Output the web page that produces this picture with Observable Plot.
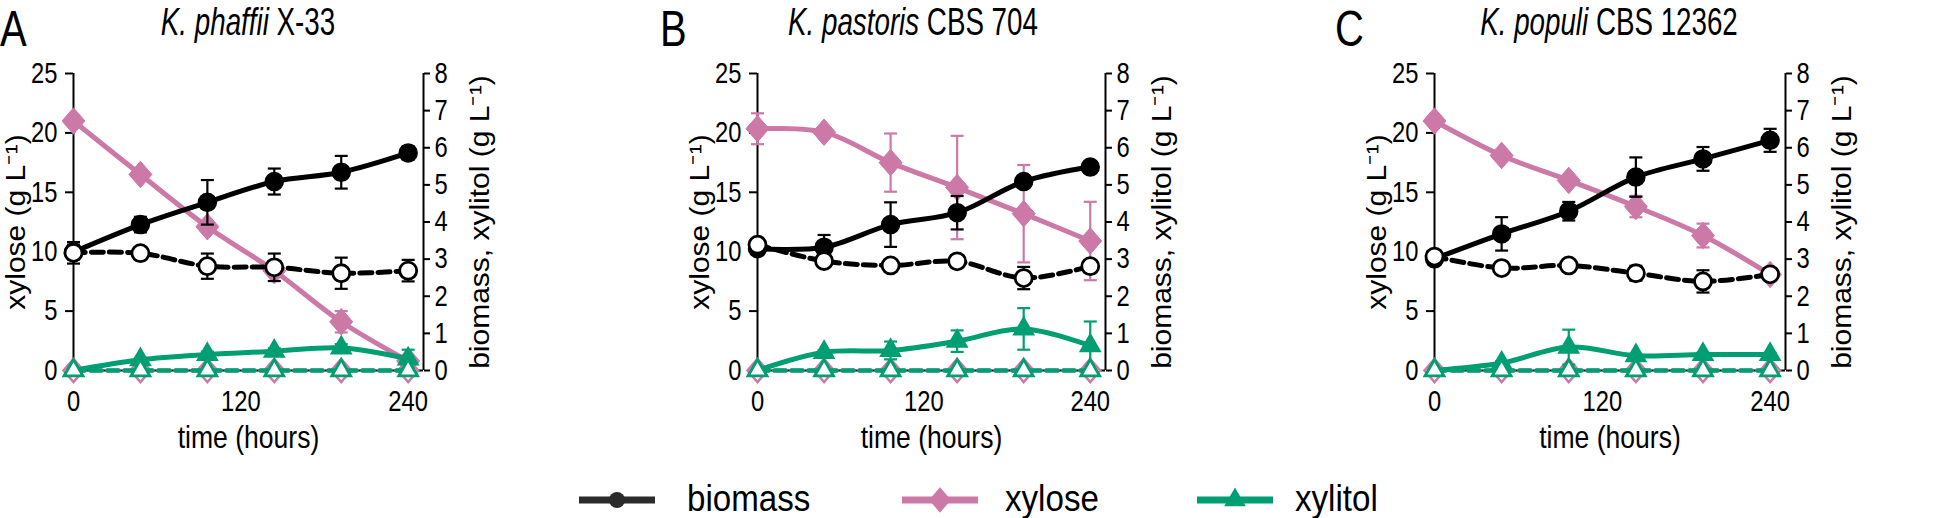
<!DOCTYPE html>
<html>
<head>
<meta charset="utf-8">
<script src="https://cdn.jsdelivr.net/npm/d3@7"></script>
<script src="https://cdn.jsdelivr.net/npm/@observablehq/plot@0.6"></script>
<style>
  body { margin: 0; background: #fff; font-family: "Liberation Sans", Arial, sans-serif; }
  #wrap { position: relative; width: 1960px; height: 518px; overflow: hidden; background: #fff; }
  .panel { position: absolute; top: 0; }
  .panel svg { overflow: visible; }
  .title { position: absolute; top: 1px; width: 500px; text-align: center; font-size: 38px; line-height: 42px; color: #000; white-space: nowrap; transform: scaleX(0.73); transform-origin: center; }
  .letter { position: absolute; top: 4px; font-size: 50px; line-height: 50px; color: #000; transform: scaleX(0.8); transform-origin: left; }
  .lgsw { position: absolute; top: 485px; }
  .lgtx { position: absolute; top: 478px; font-size: 36px; line-height: 42px; color: #000; white-space: nowrap; transform: scaleX(0.92); transform-origin: left; }
</style>
</head>
<body>
<div id="wrap"></div>
<script>
// ---------- data ----------
const time = [0, 48, 96, 144, 192, 240];
const xTicks = [0, 120, 240];
const yLeftTicks = [0, 5, 10, 15, 20, 25];
const yRightTicks = [0, 1, 2, 3, 4, 5, 6, 7, 8];
const seriesNames = ["biomass", "xylose", "xylitol"];
const panelLetters = ["A", "B", "C"];
const panelSpecies = ["K. phaffii", "K. pastoris", "K. populi"];
const panelStrains = ["X-33", "CBS 704", "CBS 12362"];
const leftLabel = "xylose (g L⁻¹)";
const rightLabel = "biomass, xylitol (g L⁻¹)";
const xLabel = "time (hours)";

// control series (open markers, dashed)
const xyloseCtrl = [0, 0, 0, 0, 0, 0];
const xylitolCtrl = [0, 0, 0, 0, 0, 0];

// Panel A: K. phaffii X-33
const biomassA = [3.19, 3.93, 4.53, 5.09, 5.34, 5.86];
const biomassErrA = [0.20, 0.21, 0.60, 0.35, 0.44, 0.18];
const biomassCtrlA = [3.17, 3.16, 2.81, 2.78, 2.62, 2.69];
const biomassCtrlErrA = [0.29, 0.05, 0.34, 0.37, 0.42, 0.29];
const xyloseA = [21.0, 16.5, 12.1, 8.4, 4.1, 0.8];
const xyloseErrA = [0.2, 0.3, 0.4, 0.3, 0.9, 0.4];
const xylitolA = [0, 0.29, 0.43, 0.52, 0.61, 0.31];
const xylitolErrA = [0, 0.05, 0.08, 0.08, 0.10, 0.25];

// Panel B: K. pastoris CBS 704
const biomassB = [3.28, 3.32, 3.93, 4.25, 5.09, 5.48];
const biomassErrB = [0.15, 0.33, 0.60, 0.45, 0.12, 0.08];
const biomassCtrlB = [3.39, 2.95, 2.83, 2.94, 2.49, 2.81];
const biomassCtrlErrB = [0.10, 0.05, 0.05, 0.10, 0.30, 0.15];
const xyloseB = [20.35, 20.06, 17.5, 15.4, 13.2, 10.9];
const xyloseErrB = [1.3, 0.2, 2.45, 4.35, 4.1, 3.3];
const xylitolB = [0, 0.49, 0.54, 0.79, 1.12, 0.67];
const xylitolErrB = [0, 0.05, 0.24, 0.29, 0.56, 0.65];

// Panel C: K. populi CBS 12362
const biomassC = [3.01, 3.68, 4.29, 5.21, 5.70, 6.20];
const biomassErrC = [0.10, 0.45, 0.25, 0.53, 0.32, 0.31];
const biomassCtrlC = [3.07, 2.76, 2.83, 2.62, 2.40, 2.59];
const biomassCtrlErrC = [0.05, 0.05, 0.05, 0.20, 0.30, 0.05];
const xyloseC = [21.0, 18.1, 16.0, 13.8, 11.36, 8.08];
const xyloseErrC = [0.2, 0.3, 0.3, 0.9, 1.0, 0.2];
const xylitolC = [0, 0.20, 0.63, 0.40, 0.43, 0.43];
const xylitolErrC = [0, 0.05, 0.47, 0.05, 0.05, 0.05];

const panels = [
  {biomass: biomassA, biomassErr: biomassErrA, biomassCtrl: biomassCtrlA, biomassCtrlErr: biomassCtrlErrA,
   xylose: xyloseA, xyloseErr: xyloseErrA, xylitol: xylitolA, xylitolErr: xylitolErrA},
  {biomass: biomassB, biomassErr: biomassErrB, biomassCtrl: biomassCtrlB, biomassCtrlErr: biomassCtrlErrB,
   xylose: xyloseB, xyloseErr: xyloseErrB, xylitol: xylitolB, xylitolErr: xylitolErrB},
  {biomass: biomassC, biomassErr: biomassErrC, biomassCtrl: biomassCtrlC, biomassCtrlErr: biomassCtrlErrC,
   xylose: xyloseC, xyloseErr: xyloseErrC, xylitol: xylitolC, xylitolErr: xylitolErrC}
];

// ---------- style / layout ----------
const BLACK = "#000000", PINK = "#CC79A7", GREEN = "#009E73";
const FONT = "'Liberation Sans', Arial, Helvetica, sans-serif";
const layout = [
  {axis: 73, iw: 350, letter: 0, title: 248},
  {axis: 757, iw: 348, letter: 660, title: 913},
  {axis: 1434, iw: 351, letter: 1335, title: 1609}
];
const ML = 73, MR = 90, MT = 73, MB = 90, H = 460;
const XMAX = 251;
const k = 25 / 8; // right axis (0-8) onto left axis (0-25)

const capSym = {draw(ctx, size) { const w = Math.sqrt(size / Math.PI); ctx.moveTo(-w, 0); ctx.lineTo(w, 0); }};
const diamondSym = {draw(ctx, size) { const s = Math.sqrt(size / Math.PI); ctx.moveTo(0, -s * 1.15); ctx.lineTo(s, 0); ctx.lineTo(0, s * 1.15); ctx.lineTo(-s, 0); ctx.closePath(); }};

function rows(vals, errs, scale) {
  return time.map((t, i) => ({t, y: vals[i] * scale, lo: (vals[i] - errs[i]) * scale, hi: (vals[i] + errs[i]) * scale, e: errs[i]}));
}
function errMarks(r, color) {
  const f = r.filter(d => d.e > 0);
  return [
    Plot.ruleX(f, {x: "t", y1: "lo", y2: "hi", stroke: color, strokeWidth: 2.2}),
    Plot.dot(f, {x: "t", y: "hi", symbol: capSym, r: 6.5, stroke: color, strokeWidth: 2.2, fill: "none"}),
    Plot.dot(f, {x: "t", y: "lo", symbol: capSym, r: 6.5, stroke: color, strokeWidth: 2.2, fill: "none"})
  ];
}
// narrow the glyphs like the reference's condensed lettering
function condense(svg) {
  svg.querySelectorAll("text").forEach(t => {
    let tr = t.getAttribute("transform");
    if (!tr) {
      const x = +(t.getAttribute("x") || 0), y = +(t.getAttribute("y") || 0);
      t.removeAttribute("x"); t.removeAttribute("y");
      tr = `translate(${x},${y})`;
    }
    const sx = t.dataset.sx ? +t.dataset.sx : 0.82;
    if (tr.includes("rotate")) t.setAttribute("transform", tr + " scale(1,0.9)");
    else t.setAttribute("transform", tr + ` scale(${sx},1)`);
  });
}

const wrap = document.getElementById("wrap");

panels.forEach((p, i) => {
  const L = layout[i];
  const zero = time.map(() => 0);
  const bio = rows(p.biomass, p.biomassErr, k);
  const bioC = rows(p.biomassCtrl, p.biomassCtrlErr, k);
  const xyl = rows(p.xylose, p.xyloseErr, 1);
  const xylC = rows(xyloseCtrl, zero, 1);
  const xit = rows(p.xylitol, p.xylitolErr, k);
  const xitC = rows(xylitolCtrl, zero, k);

  const chart = Plot.plot({
    width: ML + L.iw + MR, height: H,
    marginLeft: ML, marginRight: MR, marginTop: MT, marginBottom: MB,
    x: {domain: [0, XMAX], axis: null},
    y: {domain: [0, 25], axis: null},
    style: {fontFamily: FONT, fontSize: "29px", color: "#000", background: "transparent", overflow: "visible"},
    marks: [
      // axes lines
      Plot.ruleY([0], {x1: 0, x2: XMAX, stroke: BLACK, strokeWidth: 2}),
      Plot.ruleX([0], {y1: 0, y2: 25, stroke: BLACK, strokeWidth: 2}),
      Plot.ruleX([XMAX], {y1: 0, y2: 25, stroke: BLACK, strokeWidth: 2}),
      Plot.axisY({anchor: "left", ticks: yLeftTicks, tickSize: 8, tickPadding: 8, fontSize: 29, strokeWidth: 2, label: null}),
      Plot.axisY({anchor: "right", ticks: yRightTicks.map(v => v * k), tickFormat: d => String(Math.round(d / k)), tickSize: 6, tickPadding: 5, fontSize: 29, strokeWidth: 2, label: null}),
      Plot.axisX({ticks: xTicks, tickSize: 0, tickPadding: 20, fontSize: 29, label: null}),
      Plot.text([xLabel], {frameAnchor: "bottom", dy: 67, lineAnchor: "middle", textAnchor: "middle", fontSize: 32, text: d => d, className: "xlab"}),
      Plot.text([leftLabel], {frameAnchor: "left", rotate: -90, dx: -57, lineAnchor: "middle", textAnchor: "middle", fontSize: 30, text: d => d}),
      Plot.text([rightLabel], {frameAnchor: "right", rotate: -90, dx: 57, lineAnchor: "middle", textAnchor: "middle", fontSize: 30, text: d => d}),
      // xylose control (dashed, open diamonds)
      Plot.line(xylC, {x: "t", y: "y", stroke: PINK, strokeWidth: 4, strokeDasharray: "11,6"}),
      Plot.dot(xylC, {x: "t", y: "y", symbol: diamondSym, r: 10, fill: "white", stroke: PINK, strokeWidth: 2.5}),
      // xylose
      Plot.line(xyl, {x: "t", y: "y", stroke: PINK, strokeWidth: 5, curve: "catmull-rom"}),
      ...errMarks(xyl, PINK),
      Plot.dot(xyl, {x: "t", y: "y", symbol: diamondSym, r: 11.5, fill: PINK, stroke: PINK, strokeWidth: 1}),
      // xylitol
      Plot.line(xit, {x: "t", y: "y", stroke: GREEN, strokeWidth: 5, curve: "catmull-rom"}),
      ...errMarks(xit, GREEN),
      Plot.dot(xit, {x: "t", y: "y", symbol: "triangle", r: 7.5, fill: GREEN, stroke: GREEN, strokeWidth: 1.5}),
      // xylitol control
      Plot.line(xitC, {x: "t", y: "y", stroke: GREEN, strokeWidth: 4.5, strokeDasharray: "11,6"}),
      Plot.dot(xitC, {x: "t", y: "y", symbol: "triangle", r: 7, fill: "white", stroke: GREEN, strokeWidth: 2.8}),
      // biomass
      Plot.line(bio, {x: "t", y: "y", stroke: BLACK, strokeWidth: 5, curve: "catmull-rom"}),
      ...errMarks(bio, BLACK),
      Plot.dot(bio, {x: "t", y: "y", r: 9, fill: BLACK, stroke: BLACK}),
      // biomass control
      Plot.line(bioC, {x: "t", y: "y", stroke: BLACK, strokeWidth: 5, strokeDasharray: "12,6", curve: "catmull-rom"}),
      ...errMarks(bioC, BLACK),
      Plot.dot(bioC, {x: "t", y: "y", r: 8.5, fill: "white", stroke: BLACK, strokeWidth: 2.8})
    ]
  });
  chart.querySelectorAll(".xlab text").forEach(t => t.dataset.sx = 0.83);
  condense(chart);
  const div = document.createElement("div");
  div.className = "panel";
  div.style.left = (L.axis - ML) + "px";
  div.appendChild(chart);
  wrap.appendChild(div);

  const t = document.createElement("div");
  t.className = "title";
  t.style.left = (L.title - 250) + "px";
  t.innerHTML = "<i>" + panelSpecies[i] + "</i> " + panelStrains[i];
  wrap.appendChild(t);

  const lt = document.createElement("div");
  lt.className = "letter";
  lt.style.left = L.letter + "px";
  lt.textContent = panelLetters[i];
  wrap.appendChild(lt);
});

// ---------- legend ----------
const legendColors = [BLACK, PINK, GREEN];
const legendSwatchX = [579, 902, 1197];
const legendTextX = [687, 1005, 1295];
seriesNames.forEach((name, i) => {
  const c = legendColors[i];
  const ns = "http://www.w3.org/2000/svg";
  const svg = document.createElementNS(ns, "svg");
  svg.setAttribute("width", 76); svg.setAttribute("height", 30);
  svg.setAttribute("class", "lgsw");
  svg.style.left = legendSwatchX[i] + "px";
  const line = document.createElementNS(ns, "line");
  line.setAttribute("x1", 0); line.setAttribute("x2", 76); line.setAttribute("y1", 15); line.setAttribute("y2", 15);
  line.setAttribute("stroke", i === 0 ? "#2b2b2b" : c); line.setAttribute("stroke-width", 7);
  svg.appendChild(line);
  const path = document.createElementNS(ns, "path");
  const sym = i === 0 ? d3.symbol(d3.symbolCircle, Math.PI * 64) : i === 1 ? d3.symbol(diamondSym, Math.PI * 121) : d3.symbol(d3.symbolTriangle, Math.PI * 64);
  path.setAttribute("d", sym());
  path.setAttribute("transform", "translate(38,15)");
  path.setAttribute("fill", i === 0 ? "#2b2b2b" : c);
  svg.appendChild(path);
  wrap.appendChild(svg);
  const tx = document.createElement("div");
  tx.className = "lgtx";
  tx.style.left = legendTextX[i] + "px";
  tx.textContent = name;
  wrap.appendChild(tx);
});
</script>
</body>
</html>
